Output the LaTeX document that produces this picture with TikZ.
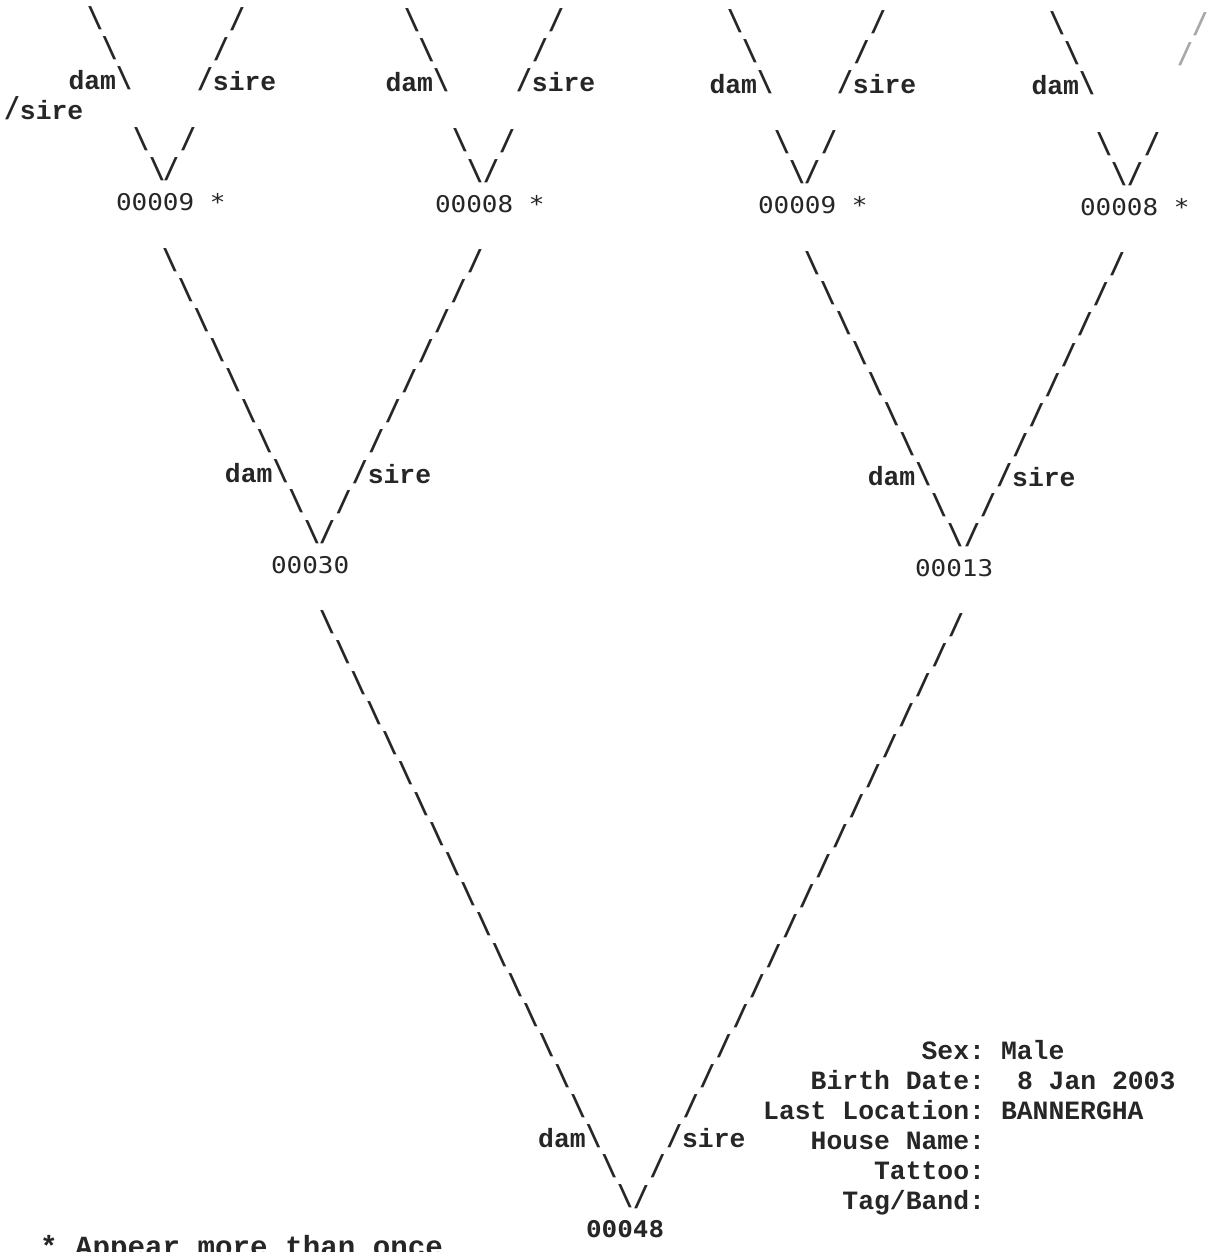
\documentclass[tikz,border=0pt]{standalone}
\usepackage{fontspec}
\usetikzlibrary{calc}
\newfontfamily\courfont{Liberation Mono}
\newfontfamily\idfont{DejaVu Sans Mono}[FakeStretch=1.13]
\definecolor{ink}{HTML}{262626}
\definecolor{faint}{HTML}{A8A8A8}
% typed slash glyphs, a little taller as in the scan
\newcommand\bsl{\scalebox{1}[1.2]{\textbackslash}}
\newcommand\fsl{\scalebox{1}[1.2]{/}}
% a connector drawn as a run of typed slash glyphs between two named coordinates
\newcommand\glyphrun[5]{\foreach \i in {#5}{\node[gl] at ($(#1)!\i/#3!(#2)$) {#4};}}
\begin{document}
\begin{tikzpicture}[x=0.5pt,y=-0.5pt,
  declare function={rowy(\k)=31+30.15*\k;},
  gl/.style={inner sep=0pt,outer sep=0pt,anchor=base,text=ink,
             font={\courfont\bfseries\fontsize{13.2}{15}\selectfont}},
  dlbl/.style={gl,anchor=base east,xshift=3.96pt},
  slbl/.style={gl,anchor=base west,xshift=-3.96pt},
  idn/.style={inner sep=0pt,outer sep=0pt,anchor=base west,text=ink,
              font={\idfont\fontsize{11.5}{14}\selectfont}},
  infok/.style={gl,anchor=base east},
  infov/.style={gl,anchor=base west}]
\fill[white] (0,0) rectangle (1219,1252);
\useasboundingbox (0,0) rectangle (1219,1252);
\clip (0,0) rectangle (1219,1252);

\begin{scope}[yslant=-0.005,yshift=1pt]
% ---------- ID nodes ----------
\node[idn] (g1) at (116,{rowy(6)}) {00009 *};
\node[idn] (g2) at (435,{rowy(6)}) {00008 *};
\node[idn] (g3) at (758,{rowy(6)}) {00009 *};
\node[idn] (g4) at (1080,{rowy(6)}) {00008 *};
\node[idn] (p1) at (271,{rowy(18)}) {00030};
\node[idn] (p2) at (915,{rowy(18)}) {00013};
\node[idn,font={\idfont\bfseries\fontsize{11.5}{14}\selectfont}] (root) at (586,{rowy(40)}) {00048};

% ---------- top groups (parents of g1..g4, cut off at the top) ----------
% group A -> g1
\coordinate (Ad0) at (95,{rowy(0)});   \coordinate (Ad2) at (124,{rowy(2)});
\coordinate (Ad4) at (141,{rowy(4)});  \coordinate (Ad5) at (157,{rowy(5)});
\coordinate (As0) at (237,{rowy(0)});  \coordinate (As2) at (205,{rowy(2)});
\coordinate (As4) at (188,{rowy(4)});  \coordinate (As5) at (171,{rowy(5)});
\glyphrun{Ad0}{Ad2}{2}{\bsl}{0,1}
\node[dlbl] at (Ad2) {dam\bsl};
\glyphrun{Ad4}{Ad5}{1}{\bsl}{0,1}
\glyphrun{As0}{As2}{2}{\fsl}{0,1}
\node[slbl] at (As2) {\fsl sire};
\glyphrun{As4}{As5}{1}{\fsl}{0,1}
\node[slbl] at (12,{rowy(3)}) {\fsl sire};

% group B -> g2
\coordinate (Bd0) at (412,{rowy(0)});  \coordinate (Bd2) at (441,{rowy(2)});
\coordinate (Bd4) at (460,{rowy(4)});  \coordinate (Bd5) at (475,{rowy(5)});
\coordinate (Bs0) at (556,{rowy(0)});  \coordinate (Bs2) at (524,{rowy(2)});
\coordinate (Bs4) at (507,{rowy(4)});  \coordinate (Bs5) at (491,{rowy(5)});
\glyphrun{Bd0}{Bd2}{2}{\bsl}{0,1}
\node[dlbl] at (Bd2) {dam\bsl};
\glyphrun{Bd4}{Bd5}{1}{\bsl}{0,1}
\glyphrun{Bs0}{Bs2}{2}{\fsl}{0,1}
\node[slbl] at (Bs2) {\fsl sire};
\glyphrun{Bs4}{Bs5}{1}{\fsl}{0,1}

% group C -> g3
\coordinate (Cd0) at (735,{rowy(0)});  \coordinate (Cd2) at (765,{rowy(2)});
\coordinate (Cd4) at (782,{rowy(4)});  \coordinate (Cd5) at (797,{rowy(5)});
\coordinate (Cs0) at (878,{rowy(0)});  \coordinate (Cs2) at (845,{rowy(2)});
\coordinate (Cs4) at (829,{rowy(4)});  \coordinate (Cs5) at (812,{rowy(5)});
\glyphrun{Cd0}{Cd2}{2}{\bsl}{0,1}
\node[dlbl] at (Cd2) {dam\bsl};
\glyphrun{Cd4}{Cd5}{1}{\bsl}{0,1}
\glyphrun{Cs0}{Cs2}{2}{\fsl}{0,1}
\node[slbl] at (Cs2) {\fsl sire};
\glyphrun{Cs4}{Cs5}{1}{\fsl}{0,1}

% group D -> g4
\coordinate (Dd0) at (1057,{rowy(0)}); \coordinate (Dd2) at (1087,{rowy(2)});
\coordinate (Dd4) at (1104,{rowy(4)}); \coordinate (Dd5) at (1119,{rowy(5)});
\coordinate (Ds0) at (1200,{rowy(0)}); \coordinate (Ds1) at (1185,{rowy(1)});
\coordinate (Ds4) at (1152,{rowy(4)}); \coordinate (Ds5) at (1135,{rowy(5)});
\glyphrun{Dd0}{Dd2}{2}{\bsl}{0,1}
\node[dlbl] at (Dd2) {dam\bsl};
\glyphrun{Dd4}{Dd5}{1}{\bsl}{0,1}
\foreach \i in {0,1}{\node[gl,text=faint] at ($(Ds0)!\i!(Ds1)$) {\fsl};}
\glyphrun{Ds4}{Ds5}{1}{\fsl}{0,1}

% ---------- middle: g1,g2 -> p1 ; g3,g4 -> p2 ----------
\coordinate (P1d0) at (170,{rowy(8)});  \coordinate (P1d1) at (312,{rowy(17)});
\coordinate (P1s0) at (475,{rowy(8)});  \coordinate (P1s1) at (327,{rowy(17)});
\glyphrun{P1d0}{P1d1}{9}{\bsl}{0,...,6,8,9}
\node[dlbl] at ($(P1d0)!7/9!(P1d1)$) {dam\bsl};
\glyphrun{P1s0}{P1s1}{9}{\fsl}{0,...,6,8,9}
\node[slbl] at ($(P1s0)!7/9!(P1s1)$) {\fsl sire};

\coordinate (P2d0) at (812,{rowy(8)});  \coordinate (P2d1) at (955,{rowy(17)});
\coordinate (P2s0) at (1117,{rowy(8)}); \coordinate (P2s1) at (972,{rowy(17)});
\glyphrun{P2d0}{P2d1}{9}{\bsl}{0,...,6,8,9}
\node[dlbl] at ($(P2d0)!7/9!(P2d1)$) {dam\bsl};
\glyphrun{P2s0}{P2s1}{9}{\fsl}{0,...,6,8,9}
\node[slbl] at ($(P2s0)!7/9!(P2s1)$) {\fsl sire};

% ---------- bottom: p1,p2 -> root ----------
\coordinate (Rd0) at (327,{rowy(20)});  \coordinate (Rd1) at (625,{rowy(39)});
\coordinate (Rs0) at (956,{rowy(20)});  \coordinate (Rs1) at (641,{rowy(39)});
\glyphrun{Rd0}{Rd1}{19}{\bsl}{0,...,16,18,19}
\node[dlbl] at ($(Rd0)!17/19!(Rd1)$) {dam\bsl};
\glyphrun{Rs0}{Rs1}{19}{\fsl}{0,...,16,18,19}
\node[slbl] at ($(Rs0)!17/19!(Rs1)$) {\fsl sire};

% ---------- info block ----------
\node[infok] (k1) at (985,{rowy(34)}) {Sex:};
\node[infov] (v1) at (1001,{rowy(34)}) {Male};
\node[infok] (k2) at (985,{rowy(35)}) {Birth Date:};
\node[infov] (v2) at (1017,{rowy(35)}) {8 Jan 2003};
\node[infok] (k3) at (985,{rowy(36)}) {Last Location:};
\node[infov] (v3) at (1001,{rowy(36)}) {BANNERGHA};
\node[infok] (k4) at (985,{rowy(37)}) {House Name:};
\node[infok] (k5) at (985,{rowy(38)}) {Tattoo:};
\node[infok] (k6) at (985,{rowy(39)}) {Tag/Band:};
\end{scope}

% ---------- footer (cut by the page edge, as in the scan) ----------
\node[gl,anchor=base west,font={\courfont\bfseries\fontsize{14.6}{16}\selectfont}] (foot) at (40,1256) {* Appear more than once};
\end{tikzpicture}
\end{document}
